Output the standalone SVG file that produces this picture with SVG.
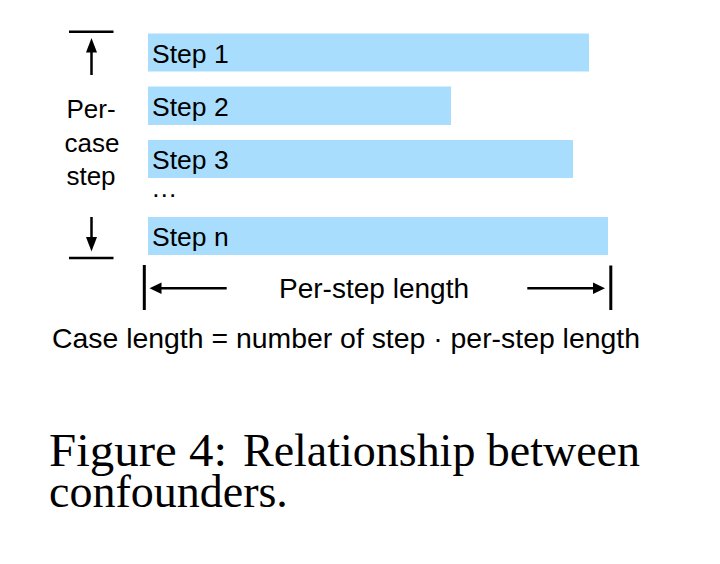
<svg xmlns="http://www.w3.org/2000/svg" width="720" height="564" viewBox="0 0 720 564">
<style>
.bar{fill:#a9ddfd}
.lbl{font-family:"Liberation Sans",Arial,Helvetica,sans-serif;font-size:26.5px;fill:#000}
.long{font-family:"Liberation Sans",Arial,Helvetica,sans-serif;font-size:27.5px;fill:#000}
.side{font-family:"Liberation Sans",Arial,Helvetica,sans-serif;font-size:26px;fill:#000;text-anchor:middle}
.cap{font-family:"Liberation Serif","Times New Roman",serif;font-size:46px;fill:#000}
.ln{stroke:#000;stroke-width:2.5;fill:none}
.tick{stroke:#000;stroke-width:3;fill:none}
.head{fill:#000}
</style>
<rect width="720" height="564" fill="#fff"/>
<g id="step1"><rect class="bar" x="148" y="33.5" width="441" height="38"/><text class="lbl" x="152" y="62.5">Step 1</text></g>
<g id="step2"><rect class="bar" x="148" y="86.5" width="303" height="38.5"/><text class="lbl" x="152" y="115.5">Step 2</text></g>
<g id="step3"><rect class="bar" x="148" y="140" width="425" height="38"/><text class="lbl" x="152" y="168.5">Step 3</text></g>
<g id="ellipsis"><text class="lbl" x="151" y="197">…</text></g>
<g id="stepn"><rect class="bar" x="148" y="217" width="460" height="38"/><text class="lbl" x="152" y="245.5">Step n</text></g>
<g id="per-case-step">
<text class="side" x="91" y="118">Per-</text>
<text class="side" x="92" y="152">case</text>
<text class="side" x="91" y="185">step</text>
</g>
<g id="per-step-length-label"><text class="long" x="279" y="298" textLength="190" lengthAdjust="spacingAndGlyphs">Per-step length</text></g>
<g id="formula"><text class="long" x="52" y="348" textLength="588" lengthAdjust="spacingAndGlyphs">Case length = number of step · per-step length</text></g>
<g id="connectors">
<line class="ln" x1="69" y1="31.7" x2="113.5" y2="31.7"/>
<line class="ln" x1="91.5" y1="75" x2="91.5" y2="50"/>
<polygon class="head" points="91.5,38 86,52.5 97,52.5"/>
<line class="ln" x1="69" y1="258" x2="113.5" y2="258"/>
<line class="ln" x1="91.5" y1="217" x2="91.5" y2="240"/>
<polygon class="head" points="91.5,251.5 86,237 97,237"/>
<line class="tick" x1="144.3" y1="265" x2="144.3" y2="310"/>
<line class="ln" x1="226.7" y1="288.3" x2="159" y2="288.3"/>
<polygon class="head" points="149.5,288.3 161.5,282.5 161.5,294"/>
<line class="tick" x1="610.8" y1="265.5" x2="610.8" y2="310"/>
<line class="ln" x1="527.3" y1="288.3" x2="595" y2="288.3"/>
<polygon class="head" points="605,288.3 593,282.5 593,294"/>
</g>
<g id="caption">
<text class="cap" x="49" y="466" textLength="178" lengthAdjust="spacingAndGlyphs">Figure 4:</text>
<text class="cap" x="243" y="466" textLength="397" lengthAdjust="spacingAndGlyphs">Relationship between</text>
<text class="cap" x="49" y="507">confounders.</text>
</g>
</svg>
